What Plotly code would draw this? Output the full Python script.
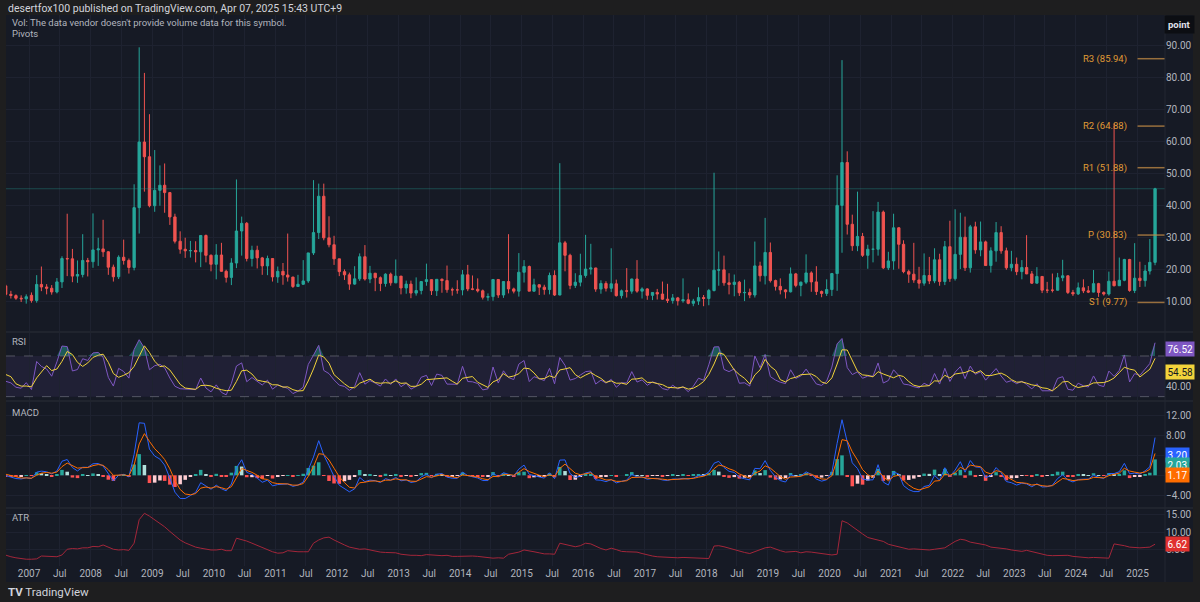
import numpy as np
import pandas as pd
import plotly.graph_objects as go
from plotly.subplots import make_subplots

# ---------------- DATA (monthly candles, Jan 2006 - Apr 2025; first 8 months sit left of the view) -------------
first_month = "2006-01-01"

opens = [
    12.1, 12.95, 12.34, 11.39, 11.59, 16.44, 13.08, 14.95,                       # 2006 Jan-Aug
    12.3, 11.9, 11.1, 10.9,                                                          # 2006 Sep-Dec
    12.0, 10.4, 15.4, 14.6, 14.2, 13.05, 16.2, 23.5, 23.4, 18.0, 18.5, 22.9,        # 2007
    22.5, 26.2, 26.5, 25.6, 20.8, 17.8, 23.9, 22.9, 20.7, 39.4, 59.9, 55.3,         # 2008
    40.0, 44.8, 46.4, 44.1, 36.5, 28.9, 26.4, 25.9, 26.0, 25.6, 30.7, 24.5,         # 2009
    21.7, 24.6, 19.5, 17.6, 22.1, 32.1, 34.5, 23.5, 26.1, 23.7, 21.2, 23.5,         # 2010
    17.75, 19.5, 18.35, 17.7, 14.75, 15.45, 16.5, 25.25, 31.6, 42.96, 29.96, 27.8,  # 2011
    23.4, 19.4, 18.4, 15.5, 17.15, 24.06, 17.08, 18.9, 17.5, 15.7, 18.6, 15.9,      # 2012
    18.0, 14.3, 15.5, 12.7, 13.5, 16.3, 16.9, 13.45, 17.0, 16.6, 13.75, 13.7,       # 2013
    13.7, 18.4, 14.0, 13.9, 13.4, 11.4, 11.6, 16.95, 12.1, 16.3, 14.0, 13.3,        # 2014
    19.2, 21.0, 13.3, 15.3, 14.55, 13.8, 18.2, 12.1, 28.4, 24.5, 15.1, 16.1,        # 2015
    18.2, 20.2, 20.55, 13.95, 15.7, 14.2, 15.6, 11.9, 13.4, 13.3, 17.1, 13.3,       # 2016
    14.0, 11.99, 12.9, 12.4, 10.8, 10.4, 11.2, 10.3, 10.6, 9.5, 10.2, 11.3,         # 2017
    11.0, 13.5, 19.85, 19.97, 15.9, 15.4, 16.1, 12.8, 12.9, 12.1, 21.2, 18.1,       # 2018
    25.4, 16.6, 14.8, 13.7, 13.1, 18.7, 15.1, 16.1, 19.0, 16.2, 13.2, 12.6,         # 2019
    13.8, 18.8, 40.1, 53.5, 34.2, 27.5, 30.4, 24.5, 26.4, 26.4, 38.0, 20.6,         # 2020
    22.75, 33.1, 27.95, 19.4, 18.6, 16.8, 15.8, 18.2, 16.5, 23.1, 16.3, 27.2,       # 2021
    17.2, 24.8, 30.15, 20.6, 33.4, 26.2, 28.7, 21.3, 25.9, 31.6, 25.9, 20.6,        # 2022
    21.7, 19.4, 20.7, 18.7, 15.8, 17.9, 13.6, 13.6, 13.6, 17.5, 18.1, 12.9,         # 2023
    12.45, 14.35, 13.4, 13.0, 15.65, 12.9, 12.4, 16.4, 15.0, 16.7, 23.2, 13.5,      # 2024
    17.35, 16.6, 19.6, 22.3,                                                         # 2025
]
highs = [
    14.0, 14.0, 12.8, 12.6, 19.0, 23.8, 18.3, 15.4,
    13.4, 12.3, 12.0, 12.3,
    12.9, 18.3, 21.0, 15.5, 15.2, 17.4, 24.2, 37.5, 26.5, 22.9, 31.1, 23.7,
    37.6, 30.0, 35.6, 25.8, 21.6, 24.5, 29.4, 23.5, 46.7, 89.5, 81.5, 68.6,
    57.4, 52.6, 53.2, 44.3, 37.5, 32.0, 30.0, 29.0, 28.9, 30.7, 31.0, 24.8,
    28.0, 28.4, 20.0, 23.6, 48.2, 36.6, 34.9, 27.5, 27.5, 24.0, 24.4, 23.6,
    21.0, 22.1, 31.3, 17.8, 18.4, 23.0, 25.25, 48.0, 46.9, 46.9, 36.7, 30.6,
    23.4, 20.1, 19.1, 21.1, 25.1, 27.7, 21.2, 19.0, 17.9, 18.9, 19.1, 23.2,
    18.0, 16.6, 16.6, 17.6, 16.3, 21.9, 16.9, 17.1, 17.3, 21.3, 14.4, 16.7,
    19.9, 21.5, 18.2, 17.3, 13.8, 12.6, 17.1, 17.0, 16.3, 31.1, 14.4, 25.2,
    23.0, 21.3, 17.2, 15.5, 15.3, 19.1, 19.8, 53.3, 29.0, 25.0, 18.9, 25.0,
    30.9, 28.1, 20.6, 16.7, 16.4, 26.7, 16.9, 13.8, 20.5, 17.2, 23.0, 14.5,
    14.2, 13.0, 14.0, 16.3, 15.6, 12.4, 11.5, 17.3, 12.6, 10.9, 14.5, 12.1,
    14.0, 50.3, 25.7, 24.4, 18.9, 18.5, 16.5, 16.9, 14.1, 28.8, 22.5, 36.2,
    28.5, 16.9, 17.3, 13.9, 20.7, 19.0, 16.3, 24.8, 19.5, 21.1, 13.5, 17.0,
    19.0, 49.5, 85.5, 57.0, 37.2, 44.4, 31.5, 27.8, 38.3, 41.2, 38.5, 25.6,
    37.5, 33.3, 29.2, 20.0, 28.4, 20.9, 25.1, 24.0, 26.7, 25.0, 28.99, 35.3,
    38.9, 37.8, 36.6, 34.0, 35.0, 35.05, 29.1, 27.0, 34.9, 33.6, 26.9, 25.9,
    23.8, 23.0, 30.8, 19.6, 20.8, 18.0, 16.2, 18.8, 19.0, 23.1, 18.2, 13.7,
    16.0, 17.0, 14.9, 19.9, 15.9, 13.2, 19.4, 65.7, 23.8, 23.4, 23.4, 28.3,
    22.5, 21.5, 29.6, 45.6,
]
lows = [
    11.1, 11.5, 10.5, 10.8, 10.9, 12.9, 12.9, 11.6,
    11.0, 10.6, 9.9, 9.4,
    9.7, 9.7, 13.3, 12.3, 12.2, 12.6, 14.3, 18.0, 16.1, 15.9, 17.6, 17.9,
    20.6, 21.2, 24.0, 18.4, 16.3, 17.1, 21.6, 18.8, 19.8, 31.3, 44.4, 39.5,
    38.1, 40.0, 37.8, 34.0, 28.2, 25.0, 23.7, 23.8, 22.3, 20.8, 22.3, 19.5,
    17.0, 19.4, 16.0, 15.2, 20.5, 24.4, 22.6, 21.0, 20.4, 18.4, 18.3, 16.3,
    15.9, 15.3, 16.3, 14.3, 14.7, 15.3, 15.9, 24.6, 29.6, 29.2, 27.0, 21.5,
    18.0, 16.8, 13.7, 15.3, 16.5, 16.6, 15.8, 13.3, 13.3, 14.7, 15.0, 15.8,
    12.3, 12.5, 11.1, 11.9, 12.3, 15.0, 12.1, 11.8, 12.8, 12.8, 11.9, 12.5,
    12.0, 13.3, 13.6, 12.9, 10.7, 10.3, 10.3, 11.2, 11.2, 12.6, 12.6, 11.6,
    16.0, 13.3, 13.1, 12.1, 12.2, 12.3, 11.8, 12.0, 19.5, 13.9, 14.3, 14.8,
    17.5, 18.5, 13.1, 12.5, 13.2, 13.0, 11.6, 11.0, 11.3, 12.5, 12.8, 11.0,
    10.6, 10.5, 10.7, 10.6, 9.6, 9.4, 8.8, 9.7, 9.2, 8.6, 9.0, 8.6,
    8.9, 13.2, 15.0, 15.0, 12.3, 11.7, 11.8, 10.2, 11.1, 11.3, 16.3, 15.4,
    16.0, 13.5, 12.3, 11.0, 12.9, 14.5, 11.7, 15.5, 13.1, 12.1, 11.4, 11.8,
    11.8, 13.4, 25.3, 31.0, 25.9, 25.8, 24.0, 20.3, 22.3, 24.4, 20.2, 19.9,
    20.0, 20.3, 18.9, 15.9, 15.9, 14.1, 15.0, 15.5, 15.8, 15.0, 15.2, 16.2,
    16.6, 20.2, 19.6, 19.1, 25.0, 24.2, 21.3, 19.1, 22.5, 25.0, 20.0, 19.5,
    18.3, 17.0, 18.6, 15.6, 15.7, 12.7, 12.7, 12.9, 13.5, 16.4, 12.4, 11.8,
    12.1, 12.7, 12.7, 12.9, 11.5, 11.9, 11.9, 14.8, 14.9, 16.4, 13.1, 12.7,
    14.6, 14.7, 18.5, 21.4,
]
closes = [
    12.95, 12.34, 11.39, 11.59, 16.44, 13.08, 14.95, 12.31,
    11.98, 11.1, 10.9, 11.56,
    10.4, 15.4, 14.6, 14.2, 13.05, 16.2, 23.5, 23.4, 18.0, 18.5, 22.9, 22.5,
    26.2, 26.5, 25.6, 20.8, 17.8, 23.9, 22.9, 20.7, 39.4, 59.9, 55.3, 40.0,
    44.8, 46.4, 44.1, 36.5, 28.9, 26.4, 25.9, 26.0, 25.6, 30.7, 24.5, 21.7,
    24.6, 19.5, 17.6, 22.1, 32.1, 34.5, 23.5, 26.1, 23.7, 21.2, 23.5, 17.75,
    19.5, 18.35, 17.7, 14.75, 15.45, 16.5, 25.25, 31.6, 42.96, 29.96, 27.8, 23.4,
    19.4, 18.4, 15.5, 17.15, 24.06, 17.08, 18.9, 17.5, 15.7, 18.6, 15.9, 18.0,
    14.3, 15.5, 12.7, 13.5, 16.3, 16.9, 13.45, 17.0, 16.6, 13.75, 13.7, 13.7,
    18.4, 14.0, 13.9, 13.4, 11.4, 11.6, 16.95, 12.1, 16.3, 14.0, 13.3, 19.2,
    21.0, 13.3, 15.3, 14.55, 13.8, 18.2, 12.1, 28.4, 24.5, 15.1, 16.1, 18.2,
    20.2, 20.55, 13.95, 15.7, 14.2, 15.6, 11.9, 13.4, 13.3, 17.1, 13.3, 14.0,
    11.99, 12.9, 12.4, 10.8, 10.4, 11.2, 10.3, 10.6, 9.5, 10.2, 11.3, 11.0,
    13.5, 19.85, 19.97, 15.9, 15.4, 16.1, 12.8, 12.9, 12.1, 21.2, 18.1, 25.4,
    16.6, 14.8, 13.7, 13.1, 18.7, 15.1, 16.1, 19.0, 16.2, 13.2, 12.6, 13.8,
    18.8, 40.1, 53.5, 34.2, 27.5, 30.4, 24.5, 26.4, 26.4, 38.0, 20.6, 22.75,
    33.1, 27.95, 19.4, 18.6, 16.8, 15.8, 18.2, 16.5, 23.1, 16.3, 27.2, 17.2,
    24.8, 30.15, 20.6, 33.4, 26.2, 28.7, 21.3, 25.9, 31.6, 25.9, 20.6, 21.7,
    19.4, 20.7, 18.7, 15.8, 17.9, 13.6, 13.6, 13.6, 17.5, 18.1, 12.9, 12.45,
    14.35, 13.4, 13.0, 15.65, 12.9, 12.4, 16.4, 15.0, 16.7, 23.2, 13.5, 17.35,
    16.6, 19.6, 22.3, 45.3,
]
atr_values = [
    2.6, 2.5, 2.3, 2.2, 3.5, 4.2, 4.0, 3.5,
    3.1, 2.8, 2.5, 2.4,
    2.4, 2.5, 3.3, 3.2, 3.0, 3.1, 3.6, 5.2, 5.4, 5.3, 5.6, 5.6,
    6.0, 5.9, 6.4, 5.8, 5.2, 5.0, 5.1, 4.9, 6.9, 13.5, 15.3, 14.5,
    13.5, 12.5, 11.5, 10.2, 9.0, 7.8, 7.0, 6.3, 5.8, 5.5, 5.2, 5.0,
    5.0, 5.2, 4.8, 4.8, 8.3, 8.0, 7.5, 6.9, 6.3, 5.6, 5.0, 4.5,
    4.1, 4.2, 4.8, 4.6, 4.5, 4.5, 4.5, 6.9, 7.8, 8.4, 8.6, 7.8,
    7.0, 6.4, 5.8, 5.4, 5.2, 5.3, 5.0, 4.7, 4.4, 4.3, 4.2, 4.2,
    3.8, 3.6, 3.5, 3.5, 3.4, 3.7, 3.6, 3.4, 3.4, 3.5, 3.2, 3.2,
    3.3, 3.4, 3.3, 3.2, 3.0, 2.8, 2.7, 2.8, 2.7, 3.8, 4.1, 4.4,
    5.0, 4.8, 4.5, 4.2, 3.9, 3.9, 3.8, 6.9, 6.6, 6.1, 5.9, 6.2,
    6.9, 6.7, 6.0, 5.4, 5.0, 5.5, 5.1, 4.6, 4.5, 4.4, 4.4, 4.0,
    3.6, 3.3, 3.1, 3.0, 3.0, 2.9, 2.8, 2.9, 2.8, 2.7, 2.7, 2.6,
    2.6, 6.1, 6.2, 5.9, 5.5, 5.0, 4.6, 4.3, 4.0, 4.6, 5.0, 5.6,
    5.8, 5.2, 4.8, 4.4, 4.5, 4.6, 4.2, 4.5, 4.4, 4.2, 3.9, 3.7,
    3.6, 3.8, 13.2, 12.6, 11.5, 10.6, 9.5, 8.5, 8.2, 7.8, 7.4, 6.6,
    6.2, 6.0, 5.6, 5.2, 5.3, 5.2, 5.3, 5.0, 5.2, 5.4, 5.6, 6.5,
    7.4, 8.0, 7.8, 7.2, 6.9, 6.8, 6.4, 5.8, 5.7, 5.5, 5.3, 5.0,
    4.7, 4.6, 4.9, 4.5, 4.2, 3.9, 3.5, 3.4, 3.4, 3.6, 3.5, 3.2,
    3.0, 2.9, 2.8, 2.9, 2.8, 2.7, 2.7, 6.7, 6.5, 6.2, 5.8, 5.6,
    5.6, 5.7, 5.8, 6.62,
]

pivot_names = ["R3", "R2", "R1", "P", "S1"]
pivot_values = [85.94, 64.88, 51.88, 30.83, 9.77]
pivot_start = "2025-01-01"

rsi_last_label, rsi_ma_last_label = 76.52, 54.58
macd_last_label, hist_last_label, signal_last_label = 3.20, 2.03, 1.17
atr_last_label = 6.62

price_ticks = [10, 20, 30, 40, 50, 60, 70, 80, 90]
rsi_ticks = [40]
macd_ticks = [-4, 0, 4, 8, 12]
atr_ticks = [5, 10, 15]
tick_years = list(range(2007, 2026))

header_text = "desertfox100 published on TradingView.com, Apr 07, 2025 15:43 UTC+9"
vol_text = "Vol: The data vendor doesn't provide volume data for this symbol."

assert len(opens) == len(highs) == len(lows) == len(closes) == len(atr_values)

# ---------------- indicators (computed from the candle closes) -----------------
dates = pd.date_range(first_month, periods=len(closes), freq="MS") + pd.Timedelta(days=14)
c = pd.Series(closes, dtype=float)

RSI_LEN, RSI_MA_LEN = 7, 3
d = c.diff().fillna(0.0)
avg_up = d.clip(lower=0).ewm(alpha=1 / RSI_LEN, adjust=False).mean()
avg_dn = (-d).clip(lower=0).ewm(alpha=1 / RSI_LEN, adjust=False).mean()
rsi = 100 - 100 / (1 + avg_up / avg_dn)
rsi_ma = rsi.rolling(RSI_MA_LEN, min_periods=1).mean()

FAST, SLOW, SIG = 3, 7, 3
macd = c.ewm(span=FAST, adjust=False).mean() - c.ewm(span=SLOW, adjust=False).mean()
signal = macd.ewm(span=SIG, adjust=False).mean()
hist = macd - signal
hist_colors = []
for i, h in enumerate(hist):
    prev = hist.iloc[i - 1] if i > 0 else h
    if h >= 0:
        hist_colors.append("#26a69a" if h > prev else "#b2dfdb")
    else:
        hist_colors.append("#ffcdd2" if h > prev else "#ff5252")

# ---------------- geometry -----------------
W, H = 1200, 602
ML, MR, MT, MB = 6, 35, 15, 36
PW, PH = W - ML - MR, H - MT - MB


def px(X):
    return (X - ML) / PW


def py(Y):
    return (H - MB - Y) / PH


X_RANGE = ["2006-08-17", "2025-06-13"]
PANE_BG = "#161a25"
FRAME_BG = "#1e1e1f"
GRID = "#1e2230"
TXT = "#b2b5be"
UP, DOWN = "#26a69a", "#ef5350"
FONT = "Roboto"

fig = make_subplots(rows=4, cols=1, shared_xaxes=True, vertical_spacing=0.01)

fig.add_trace(go.Candlestick(
    x=dates, open=opens, high=highs, low=lows, close=closes,
    increasing=dict(line=dict(color=UP, width=1), fillcolor=UP),
    decreasing=dict(line=dict(color=DOWN, width=1), fillcolor=DOWN),
    whiskerwidth=0, showlegend=False, hoverinfo="skip"), row=1, col=1)

# RSI
rsi_base = pd.Series(70.0, index=rsi.index)
fig.add_trace(go.Scatter(x=dates, y=rsi_base, mode="lines", line=dict(width=0),
                         showlegend=False, hoverinfo="skip"), row=2, col=1)
fig.add_trace(go.Scatter(x=dates, y=np.maximum(rsi, 70.0), mode="lines", line=dict(width=0),
                         fill="tonexty", fillcolor="rgba(38,166,154,0.45)",
                         showlegend=False, hoverinfo="skip"), row=2, col=1)
fig.add_trace(go.Scatter(x=dates, y=rsi, mode="lines", line=dict(color="#7e57c2", width=1),
                         showlegend=False, hoverinfo="skip"), row=2, col=1)
fig.add_trace(go.Scatter(x=dates, y=rsi_ma, mode="lines", line=dict(color="#f2d33b", width=1),
                         showlegend=False, hoverinfo="skip"), row=2, col=1)

# MACD
fig.add_trace(go.Bar(x=dates, y=hist, marker=dict(color=hist_colors, line=dict(width=0)),
                     showlegend=False, hoverinfo="skip"), row=3, col=1)
fig.add_trace(go.Scatter(x=dates, y=macd, mode="lines", line=dict(color="#2962ff", width=1),
                         showlegend=False, hoverinfo="skip"), row=3, col=1)
fig.add_trace(go.Scatter(x=dates, y=signal, mode="lines", line=dict(color="#ff6d00", width=1),
                         showlegend=False, hoverinfo="skip"), row=3, col=1)

# ATR
fig.add_trace(go.Scatter(x=dates, y=atr_values, mode="lines", line=dict(color="#a3263a", width=1),
                         showlegend=False, hoverinfo="skip"), row=4, col=1)

# ---------------- axes -----------------
tickvals, ticktext = [], []
for yr in tick_years:
    tickvals.append(f"{yr}-01-01")
    ticktext.append(str(yr))
    if yr < 2025:
        tickvals.append(f"{yr}-07-01")
        ticktext.append("Jul")

fig.update_xaxes(range=X_RANGE, rangeslider_visible=False, tickvals=tickvals, ticktext=ticktext,
                 showgrid=True, gridcolor=GRID, gridwidth=1, zeroline=False, showline=False,
                 ticks="", tickfont=dict(size=10, color=TXT, family=FONT))

axis_common = dict(side="right", zeroline=False, showline=False, gridcolor=GRID,
                   ticks="", tickformat=".2f", tickfont=dict(size=10, color=TXT, family=FONT))
fig.update_yaxes(row=1, col=1, range=[0.85, 99.6], tickvals=price_ticks, showgrid=True,
                 domain=[py(331), 1.0], **axis_common)
fig.update_yaxes(row=2, col=1, range=[26.7, 92.6], tickvals=rsi_ticks, showgrid=False,
                 domain=[py(400), py(333)], **axis_common)
fig.update_yaxes(row=3, col=1, range=[-6.34, 14.66], tickvals=macd_ticks, showgrid=True,
                 domain=[py(507), py(402)], **axis_common)
fig.update_yaxes(row=4, col=1, range=[0.5, 16.5], tickvals=atr_ticks, showgrid=True,
                 domain=[0.0, py(509)], **axis_common)

# ---------------- shapes -----------------
shapes = []
shapes.append(dict(type="rect", xref="x2 domain", yref="y2", x0=0, x1=1, y0=30, y1=70,
                   fillcolor="rgba(126,87,194,0.10)", line=dict(width=0), layer="below"))
for lvl in (70, 30):
    shapes.append(dict(type="line", xref="x2 domain", yref="y2", x0=0, x1=1, y0=lvl, y1=lvl,
                       line=dict(color="rgba(120,123,134,0.6)", width=1, dash="dash")))
shapes.append(dict(type="line", xref="x domain", yref="y", x0=0, x1=1, y0=closes[-1], y1=closes[-1],
                   line=dict(color="rgba(38,166,154,0.35)", width=1)))
for v in pivot_values:
    shapes.append(dict(type="line", xref="x", yref="y", x0=pivot_start, x1=X_RANGE[1], y0=v, y1=v,
                       line=dict(color="rgba(196,140,70,0.75)", width=1.5)))
shapes.append(dict(type="rect", xref="paper", yref="paper", x0=px(0), x1=px(W), y0=py(15), y1=py(0),
                   fillcolor=FRAME_BG, line=dict(width=0)))
shapes.append(dict(type="rect", xref="paper", yref="paper", x0=px(0), x1=px(W), y0=py(H), y1=py(582),
                   fillcolor=FRAME_BG, line=dict(width=0)))
shapes.append(dict(type="rect", xref="paper", yref="paper", x0=px(0), x1=px(6), y0=py(H), y1=py(0),
                   fillcolor=FRAME_BG, line=dict(width=0)))
shapes.append(dict(type="rect", xref="paper", yref="paper", x0=px(1193), x1=px(W), y0=py(H), y1=py(0),
                   fillcolor=FRAME_BG, line=dict(width=0)))
for Y in (332, 401, 508):
    shapes.append(dict(type="line", xref="paper", yref="paper", x0=px(6), x1=px(1193), y0=py(Y), y1=py(Y),
                       line=dict(color="#2a2e39", width=1)))
shapes.append(dict(type="line", xref="paper", yref="paper", x0=px(1165), x1=px(1165), y0=py(582), y1=py(15),
                   line=dict(color="#232733", width=1)))

# ---------------- annotations -----------------
ann = []


def txt(X, Y, s, size=10, color="#d1d4dc", anchor="left"):
    ann.append(dict(xref="paper", yref="paper", x=px(X), y=py(Y), text=s, showarrow=False,
                    xanchor=anchor, yanchor="middle", font=dict(size=size, color=color, family=FONT)))


txt(6, 8, header_text, size=10.5, color="#d1d4dc")
txt(10, 23, vol_text, size=9.5, color=TXT)
txt(10, 34, "Pivots", size=9.5, color=TXT)
txt(10, 341, "RSI", size=9.5, color=TXT)
txt(10, 412, "MACD", size=9.5, color=TXT)
txt(10, 517, "ATR", size=9.5, color=TXT)
txt(6, 592, "<b>TV</b> TradingView", size=11.5, color="#d1d4dc")

ann.append(dict(xref="paper", yref="paper", x=px(1179), y=py(25), text="<b>point</b>", showarrow=False,
                xanchor="center", yanchor="middle", bgcolor="#0c0e13", borderpad=3,
                font=dict(size=9.5, color="#e0e3eb", family=FONT)))

for name, v in zip(pivot_names, pivot_values):
    ann.append(dict(xref="x", yref="y", x=pivot_start, y=v, text=f"{name} ({v:.2f})", showarrow=False,
                    xanchor="right", yanchor="middle", xshift=-9,
                    font=dict(size=9.5, color="#e09a35", family=FONT)))


def value_box(yref, v, bg, fg="#ffffff", yshift=0):
    ann.append(dict(xref="paper", yref=yref, x=px(1165), y=v, text=f"{v:.2f}", showarrow=False,
                    xanchor="left", yanchor="middle", yshift=yshift, bgcolor=bg, borderpad=1.5,
                    font=dict(size=10, color=fg, family=FONT)))


value_box("y2", rsi_last_label, "#7e57c2")
value_box("y2", rsi_ma_last_label, "#f2d33b", fg="#131722")
value_box("y3", macd_last_label, "#2962ff", yshift=4)
value_box("y3", hist_last_label, "#26a69a")
value_box("y3", signal_last_label, "#ff6d00", yshift=-6)
value_box("y4", atr_last_label, "#e0302f")

fig.update_layout(
    width=W, height=H, margin=dict(l=ML, r=MR, t=MT, b=MB),
    paper_bgcolor=PANE_BG, plot_bgcolor=PANE_BG,
    showlegend=False, bargap=0.25, hovermode=False,
    shapes=shapes, annotations=ann,
    font=dict(family=FONT, color=TXT),
)

fig.write_html("out.html", config={"displayModeBar": False},
               post_script="document.body.style.margin='0';document.body.style.overflow='hidden';")
